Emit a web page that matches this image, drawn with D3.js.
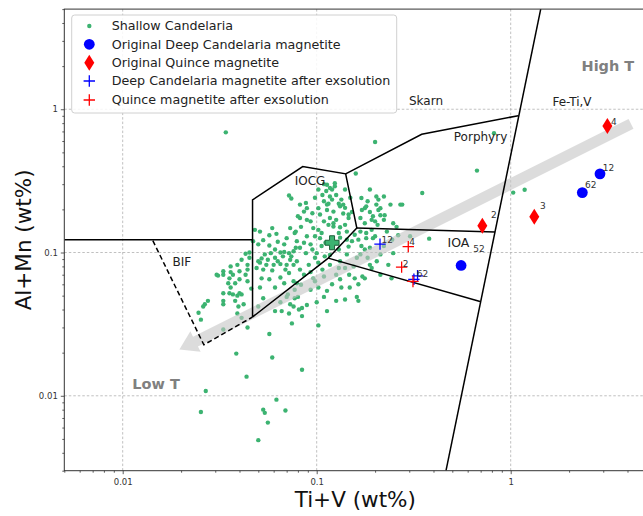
<!DOCTYPE html>
<html><head><meta charset="utf-8">
<script src="https://cdn.jsdelivr.net/npm/d3@7"></script>
<style>body{margin:0;background:#fff}svg{display:block;font-family:"DejaVu Sans",sans-serif}</style>
</head><body><svg id="c" width="643" height="516"></svg>
<script>
// ---------------- DATA ----------------
const xDomain = [0.005, 5];
const yDomain = [0.003, 5];
const xMajorTicks = [0.01, 0.1, 1];
const yMajorTicks = [0.01, 0.1, 1];
const tickLabels = ["0.01", "0.1", "1"];

// Shallow Candelaria [Ti+V, Al+Mn] wt%
const shallowCandelaria = [
[0.072,0.25],[0.074,0.238],[0.051,0.14],[0.048,0.144],[0.059,0.148],[0.057,0.132],[0.062,0.135],[0.070,0.126],[0.061,0.105],[0.065,0.100],
[0.058,0.099],[0.054,0.097],[0.052,0.091],[0.056,0.089],[0.061,0.092],[0.067,0.094],[0.072,0.099],[0.073,0.089],[0.070,0.082],[0.065,0.083],
[0.060,0.082],[0.055,0.082],[0.051,0.085],[0.049,0.078],[0.053,0.076],[0.059,0.075],[0.065,0.067],[0.072,0.072],[0.076,0.082],[0.076,0.063],
[0.068,0.061],[0.052,0.066],[0.051,0.057],[0.045,0.092],[0.045,0.100],[0.043,0.098],[0.041,0.089],[0.039,0.082],[0.044,0.082],[0.040,0.074],
[0.043,0.070],[0.037,0.070],[0.036,0.080],[0.036,0.073],[0.033,0.070],[0.031,0.069],[0.035,0.061],[0.038,0.061],[0.040,0.065],[0.044,0.063],
[0.036,0.057],[0.033,0.052],[0.037,0.051],[0.039,0.050],[0.041,0.051],[0.047,0.120],[0.050,0.114],
[0.159,0.356],[0.113,0.297],[0.120,0.275],[0.117,0.246],[0.126,0.252],[0.109,0.228],[0.134,0.234],[0.132,0.210],[0.088,0.222],[0.089,0.204],
[0.102,0.204],[0.113,0.198],[0.122,0.193],[0.137,0.187],[0.146,0.174],[0.117,0.174],[0.126,0.169],[0.109,0.165],[0.093,0.165],[0.082,0.174],
[0.083,0.151],[0.096,0.148],[0.122,0.152],[0.132,0.150],[0.140,0.156],[0.143,0.140],[0.130,0.137],[0.106,0.137],[0.098,0.130],[0.089,0.130],
[0.079,0.120],[0.093,0.114],[0.106,0.111],[0.143,0.123],[0.076,0.102],[0.088,0.099],[0.100,0.099],[0.110,0.094],[0.079,0.087],[0.091,0.082],
[0.102,0.085],[0.117,0.082],[0.132,0.087],[0.155,0.080],[0.126,0.070],[0.109,0.068],[0.096,0.066],[0.086,0.070],[0.120,0.060],[0.134,0.057],
[0.113,0.054],[0.161,0.049],
[0.170,0.240],[0.183,0.228],[0.203,0.246],[0.188,0.275],[0.213,0.204],[0.240,0.216],[0.195,0.179],[0.177,0.160],[0.222,0.169],[0.258,0.151],
[0.192,0.144],[0.168,0.140],[0.180,0.126],[0.200,0.130],[0.230,0.140],[0.170,0.111],[0.188,0.108],[0.152,0.120],[0.270,0.216],
[0.143,0.097],[0.161,0.092],[0.140,0.078],[0.157,0.066],[0.188,0.082],[0.213,0.070],
[0.0275,0.046],[0.0265,0.0435],[0.026,0.042],[0.0246,0.038],[0.0253,0.034],[0.033,0.046],[0.033,0.0435],[0.038,0.046],[0.0395,0.042],[0.039,0.0375],
[0.041,0.035],[0.044,0.030],[0.033,0.029],[0.050,0.042],[0.057,0.027],[0.061,0.039],[0.066,0.039],[0.065,0.045],[0.072,0.0375],[0.0745,0.032],
[0.073,0.0435],[0.077,0.048],[0.080,0.049],[0.084,0.041],[0.089,0.043],[0.084,0.036],[0.081,0.040],[0.100,0.045],[0.102,0.031],[0.113,0.039],
[0.164,0.046],[0.0385,0.0197],[0.059,0.0185],[0.084,0.0152],[0.0435,0.0136],[0.0268,0.0108],[0.0253,0.0077],[0.062,0.0094],[0.053,0.0080],[0.054,0.0076],
[0.069,0.0079],[0.056,0.0065],[0.050,0.0049],[0.070,0.049],[0.076,0.042],
[0.0305,0.070],[0.033,0.074],[0.0355,0.066],[0.0355,0.052],[0.040,0.052],[0.042,0.0435],
[0.034,0.69],[0.200,0.59],[0.177,0.204],[0.203,0.216],[0.213,0.182],[0.192,0.169],[0.168,0.174],[0.248,0.160],[0.263,0.132],[0.195,0.126],
[0.164,0.123],[0.177,0.105],[0.222,0.111],[0.248,0.099],[0.098,0.063],[0.132,0.065],[0.148,0.057],[0.192,0.078],[0.234,0.082],[0.177,0.066],
[0.109,0.049],[0.126,0.046],
[0.67,0.373],[0.350,0.260],[0.276,0.216],[0.222,0.246],[0.208,0.234],[0.180,0.210],[0.208,0.198],[0.200,0.165],[0.303,0.130],[0.380,0.125],
[0.180,0.137],[0.213,0.097],[0.172,0.068],[0.243,0.066],[1.03,0.262],[1.18,0.274],[0.82,0.68],
[0.109,0.300],[0.117,0.282],[0.112,0.269],[0.124,0.290],[0.120,0.234],[0.113,0.216],[0.137,0.216],[0.146,0.184],[0.122,0.160],[0.089,0.169],
[0.086,0.193],[0.080,0.179],[0.077,0.137],[0.104,0.126],
[0.102,0.275],[0.107,0.252],[0.124,0.305],[0.140,0.275],[0.149,0.241],[0.130,0.219],[0.115,0.219],[0.098,0.241],[0.095,0.188],[0.104,0.184],
[0.140,0.205],[0.152,0.192],[0.115,0.156],[0.102,0.144],[0.132,0.127],[0.120,0.123],[0.111,0.117],[0.095,0.105],[0.082,0.108],[0.130,0.105],
[0.146,0.110],[0.157,0.133],[0.078,0.140],[0.073,0.148],[0.086,0.117],[0.068,0.114],[0.063,0.119],[0.074,0.094],[0.082,0.076],[0.093,0.073],
[0.107,0.076],[0.098,0.092],[0.117,0.096],[0.130,0.078],[0.147,0.070],[0.164,0.060],[0.093,0.055],[0.077,0.055],[0.083,0.0596],[0.102,0.057],
[0.140,0.047],[0.082,0.216],[0.171,0.198],[0.188,0.192],[0.206,0.156],[0.224,0.182],[0.245,0.123],[0.168,0.097],[0.183,0.092],[0.204,0.087],
[0.053,0.122],[0.057,0.112],[0.068,0.101],[0.078,0.108],[0.050,0.087],[0.063,0.087],[0.069,0.076],[0.057,0.065],[0.061,0.057],[0.071,0.051],
[0.046,0.056],[0.044,0.076],[0.053,0.048],[0.079,0.061]
];
const shallowMean = [[0.120, 0.117]];

const deepOriginal = [[0.555,0.0812],[2.34,0.262],[2.886,0.354]];
const quinceOriginal = [[0.714,0.1535],[1.323,0.178],[3.15,0.765]];
const deepExsolved = [[0.212,0.1144],[0.331,0.0688],[0.317,0.065]];
const quinceExsolved = [[0.2965,0.110],[0.274,0.0791],[0.3135,0.0628]];

// sample labels [text, Ti+V, Al+Mn]
const sampleLabels = [
 ["52",0.641,0.1003],["62",2.415,0.2804],["12",2.98,0.371],
 ["2",0.791,0.173],["3",1.416,0.2],["4",3.29,0.771],
 ["12",0.216,0.116],["62",0.328,0.0677],
 ["4",0.300,0.1122],["2",0.2775,0.0795]
];

// field boundaries
const bifSkarnBoundary = [[0.005,0.123],[0.0467,0.123]];
const iocgField = [[0.0467,0.0354],[0.0467,0.233],[0.0847,0.398],[0.141,0.354],[0.161,0.148],[0.1147,0.0914],[0.0466,0.0354]];
const ioaTop = [[0.161,0.148],[0.830,0.139]];
const ioaBottom = [[0.1147,0.0914],[0.695,0.0455]];
const porphyrySkarn = [[0.141,0.354],[0.3477,0.669],[1.094,0.902]];
const feTiVBoundary = [[0.464,0.003],[1.428,5]];
const bifField = [[0.0143,0.121],[0.0262,0.0227],[0.0466,0.0354]];

const fieldNames = [["Skarn",0.366,1.072],["Porphyry",0.699,0.601],["IOCG",0.0924,0.2966],["BIF",0.0202,0.0808],["IOA",0.538,0.1096],["Fe-Ti,V",2.07,1.054]];
const tempNames = [["High T",3.17,1.85],["Low T",0.01485,0.0112]];
const arrowTail = [4.17,0.79];
const arrowTip = [0.0196,0.021];

const legendLabels = ["Shallow Candelaria","Original Deep Candelaria magnetite","Original Quince magnetite","Deep Candelaria magnetite after exsolution","Quince magnetite after exsolution"];

// ---------------- DRAW ----------------
const svg = d3.select("#c");
const L=64.3, R=646.3, T=9.1, B=470.7;
const x = d3.scaleLog().domain(xDomain).range([L,R]);
const y = d3.scaleLog().domain(yDomain).range([B,T]);

svg.append("defs").append("clipPath").attr("id","clip")
  .append("rect").attr("x",L).attr("y",T).attr("width",R-L).attr("height",B-T);

function minors(dom){const out=[];for(let e=-3;e<=1;e++)for(let m=2;m<=9;m++){const v=m*Math.pow(10,e);if(v>=dom[0]*0.999&&v<=dom[1]*1.001)out.push(v);}return out;}
const xMinor=minors(xDomain), yMinor=minors(yDomain);

// grid
const grid=svg.append("g").attr("stroke","#b0b0b0").attr("stroke-width",0.8).attr("stroke-dasharray","2.5,2");
grid.selectAll(".gx").data(xMajorTicks).join("line").attr("x1",d=>x(d)).attr("x2",d=>x(d)).attr("y1",T).attr("y2",B);
grid.selectAll(".gy").data(yMajorTicks).join("line").attr("y1",d=>y(d)).attr("y2",d=>y(d)).attr("x1",L).attr("x2",R);

const plot=svg.append("g").attr("clip-path","url(#clip)");

plot.append("g").selectAll("circle").data(shallowCandelaria).join("circle")
  .attr("cx",d=>x(d[0])).attr("cy",d=>y(d[1])).attr("r",2.2).attr("fill","#3cb371");

// arrow
{
  const sx=x(arrowTail[0]), sy=y(arrowTail[1]), tx=x(arrowTip[0]), ty=y(arrowTip[1]);
  const dx=tx-sx, dy=ty-sy, len=Math.hypot(dx,dy), ux=dx/len, uy=dy/len, nx=-uy, ny=ux;
  const hw=5.5, hhw=11.5, hl=18, bx=tx-ux*hl, by=ty-uy*hl;
  const pts=[[sx+nx*hw,sy+ny*hw],[bx+nx*hw,by+ny*hw],[bx+nx*hhw,by+ny*hhw],[tx,ty],[bx-nx*hhw,by-ny*hhw],[bx-nx*hw,by-ny*hw],[sx-nx*hw,sy-ny*hw]];
  plot.append("polygon").attr("points",pts.map(p=>p.join(",")).join(" ")).attr("fill","#c4c4c4").attr("opacity",0.6);
}

const line=d3.line().x(d=>x(d[0])).y(d=>y(d[1]));
[bifSkarnBoundary,iocgField,ioaTop,ioaBottom,porphyrySkarn,feTiVBoundary].forEach(p=>{
  plot.append("path").attr("d",line(p)).attr("fill","none").attr("stroke","#000").attr("stroke-width",1.5);
});
plot.append("path").attr("d",line(bifField)).attr("fill","none").attr("stroke","#000").attr("stroke-width",1.5).attr("stroke-dasharray","5,3");

svg.append("g").selectAll("text").data(fieldNames).join("text")
  .attr("x",d=>x(d[1])).attr("y",d=>y(d[2])).attr("text-anchor","middle")
  .attr("font-size",d=>d[0]==="IOA"?12.5:12).attr("fill","#222").text(d=>d[0]);
svg.append("g").selectAll("text").data(tempNames).join("text")
  .attr("x",d=>x(d[1])).attr("y",d=>y(d[2])).attr("text-anchor","middle")
  .attr("font-size",14.5).attr("font-weight","bold").attr("fill","#808080").text(d=>d[0]);

const bigPlus="M-2.5,-7H2.5V-2.5H7V2.5H2.5V7H-2.5V2.5H-7V-2.5H-2.5Z";
plot.append("g").selectAll("path").data(shallowMean).join("path")
  .attr("transform",d=>`translate(${x(d[0])},${y(d[1])})`).attr("d",bigPlus)
  .attr("fill","#3cb371").attr("stroke","#1f5f3a").attr("stroke-width",1);

const diamond="M0,-8L5,0L0,8L-5,0Z", plus="M-5.7,0H5.7M0,-5.7V5.7";
plot.append("g").selectAll("circle").data(deepOriginal).join("circle")
  .attr("cx",d=>x(d[0])).attr("cy",d=>y(d[1])).attr("r",5.4).attr("fill","#0000ff");
plot.append("g").selectAll("path").data(quinceOriginal).join("path")
  .attr("transform",d=>`translate(${x(d[0])},${y(d[1])})`).attr("d",diamond).attr("fill","#ff0000");
plot.append("g").selectAll("path").data(deepExsolved).join("path")
  .attr("transform",d=>`translate(${x(d[0])},${y(d[1])})`).attr("d",plus).attr("stroke","#0000ff").attr("stroke-width",1.3);
plot.append("g").selectAll("path").data(quinceExsolved).join("path")
  .attr("transform",d=>`translate(${x(d[0])},${y(d[1])})`).attr("d",plus).attr("stroke","#ff0000").attr("stroke-width",1.3);

svg.append("g").selectAll("text").data(sampleLabels).join("text")
  .attr("x",d=>x(d[1])).attr("y",d=>y(d[2])).attr("font-size",9).attr("fill","#333").text(d=>d[0]);

const xa=svg.append("g").attr("transform",`translate(0,${B})`)
  .call(d3.axisBottom(x).tickValues(xMajorTicks).tickFormat(d=>tickLabels[xMajorTicks.indexOf(d)]).tickSize(3.5).tickSizeOuter(0));
svg.append("g").attr("transform",`translate(0,${B})`)
  .call(d3.axisBottom(x).tickValues(xMinor).tickFormat("").tickSize(2).tickSizeOuter(0));
svg.append("g").attr("transform",`translate(${L},0)`)
  .call(d3.axisLeft(y).tickValues(yMajorTicks).tickFormat(d=>tickLabels[yMajorTicks.indexOf(d)]).tickSize(3.5).tickSizeOuter(0));
svg.append("g").attr("transform",`translate(${L},0)`)
  .call(d3.axisLeft(y).tickValues(yMinor).tickFormat("").tickSize(2).tickSizeOuter(0));
svg.selectAll(".domain").remove();
svg.selectAll(".tick line").attr("stroke","#333").attr("stroke-width",0.8);
svg.selectAll(".tick text").attr("font-size",8.5).attr("fill","#333").attr("font-family","DejaVu Sans");
xa.selectAll(".tick text").attr("dy","0.9em");

svg.append("rect").attr("x",L).attr("y",T).attr("width",R-L).attr("height",B-T)
  .attr("fill","none").attr("stroke","#333").attr("stroke-width",1);

svg.append("text").attr("x",(L+R)/2).attr("y",507).attr("text-anchor","middle").attr("font-size",21.5).attr("fill","#111").text("Ti+V (wt%)");
svg.append("text").attr("transform",`translate(30.5,${(T+B)/2}) rotate(-90)`).attr("text-anchor","middle").attr("font-size",21.5).attr("fill","#111").text("Al+Mn (wt%)");

const lg=svg.append("g");
lg.append("rect").attr("x",71.7).attr("y",15).attr("width",325).attr("height",98).attr("rx",3)
  .attr("fill","#fff").attr("fill-opacity",0.85).attr("stroke","#d0d0d0");
const rowY=[26,44.3,62.7,81,100], mx=89.3;
lg.append("circle").attr("cx",mx).attr("cy",rowY[0]).attr("r",2.2).attr("fill","#3cb371");
lg.append("circle").attr("cx",mx).attr("cy",rowY[1]).attr("r",5.4).attr("fill","#0000ff");
lg.append("path").attr("transform",`translate(${mx},${rowY[2]})`).attr("d",diamond).attr("fill","#ff0000");
lg.append("path").attr("transform",`translate(${mx},${rowY[3]})`).attr("d",plus).attr("stroke","#0000ff").attr("stroke-width",1.3);
lg.append("path").attr("transform",`translate(${mx},${rowY[4]})`).attr("d",plus).attr("stroke","#ff0000").attr("stroke-width",1.3);
lg.selectAll("text").data(legendLabels).join("text").attr("x",111.7).attr("y",(d,i)=>rowY[i]).attr("dy","0.35em")
  .attr("font-size",12.7).attr("fill","#222").text(d=>d);
</script></body></html>
